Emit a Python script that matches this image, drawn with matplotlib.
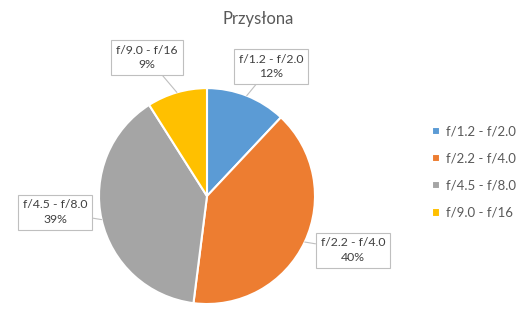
import matplotlib
matplotlib.use("Agg")
import matplotlib.pyplot as plt
import numpy as np

plt.rcParams['font.family'] = ['Lato', 'DejaVu Sans']

# dane
labels = ['f/1.2 - f/2.0', 'f/2.2 - f/4.0', 'f/4.5 - f/8.0', 'f/9.0 - f/16']
values = [12, 40, 39, 9]
colors = ['#5B9BD5', '#ED7D31', '#A5A5A5', '#FFC000']
# pozycje etykiet (wsp. danych kola, promien = 1)
label_pos = [(0.593, 1.204), (1.352, -0.50), (-1.407, -0.148), (-0.556, 1.287)]

fig = plt.figure(figsize=(5.21, 3.12), dpi=100)
ax = fig.add_axes([0.190, 0.0256, 0.4146, 0.692])

wedges, _ = ax.pie(values, colors=colors, startangle=90, counterclock=False,
                   wedgeprops=dict(edgecolor='white', linewidth=1.5))
ax.set_xlim(-1, 1)
ax.set_ylim(-1, 1)
ax.set_aspect('auto')

total = sum(values)
for w, lab, v, pos in zip(wedges, labels, values, label_pos):
    ang = np.deg2rad((w.theta1 + w.theta2) / 2)
    edge = (np.cos(ang), np.sin(ang))
    ax.annotate(f'{lab}\n{round(v / total * 100)}%', xy=edge, xytext=pos,
                ha='center', va='center', fontsize=8.8, color='#404040',
                linespacing=1.35, annotation_clip=False,
                bbox=dict(boxstyle='square,pad=0.4', fc='white', ec='#BFBFBF', lw=0.8),
                arrowprops=dict(arrowstyle='-', color='#BFBFBF', lw=0.8,
                                shrinkA=0, shrinkB=0))

fig.text(0.495, 0.94, 'Przysłona', ha='center', va='center', fontsize=12, color='#595959')

fig.legend(wedges, labels, loc='center left', bbox_to_anchor=(0.806, 0.448),
           frameon=False, fontsize=9.5, labelcolor='#595959', handlelength=0.6,
           handleheight=0.6, handletextpad=0.5, labelspacing=1.15)

fig.savefig('out.png', dpi=100)
